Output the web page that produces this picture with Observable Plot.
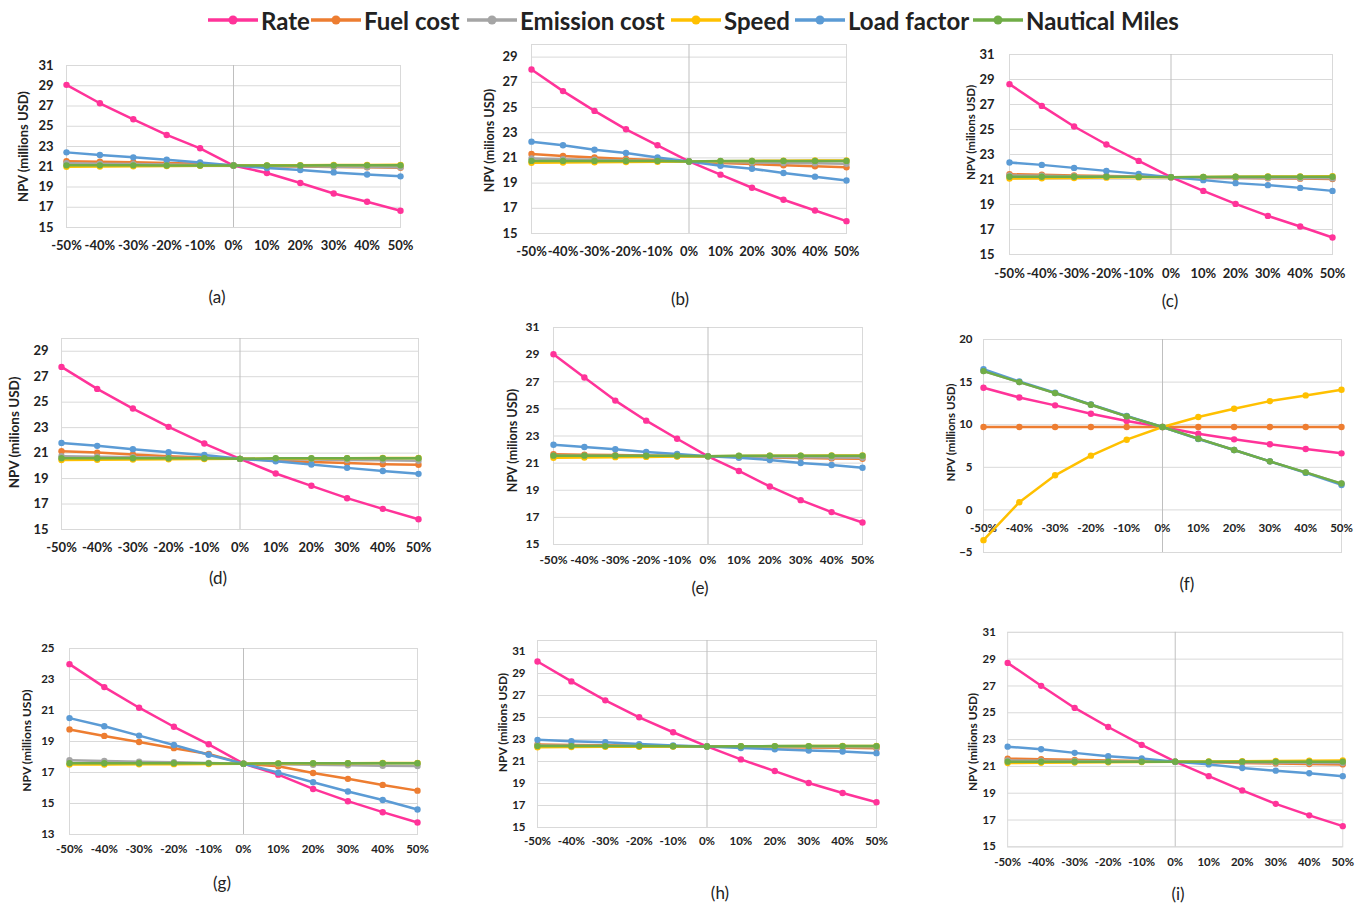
<!DOCTYPE html>
<html><head><meta charset="utf-8">
<script src="https://cdn.jsdelivr.net/npm/d3@7"></script>
<script src="https://cdn.jsdelivr.net/npm/@observablehq/plot@0.6"></script>
<style>
body{margin:0;background:#fff;width:1367px;height:904px;position:relative;overflow:hidden;font-family:Lato,"Open Sans",sans-serif;color:#222;}
.panel{position:absolute;}
.panel svg{overflow:visible;}
.cap{position:absolute;font-size:17px;font-family:Lato,sans-serif;transform:translate(-50%,-50%);color:#222;}
.leg{position:absolute;top:4px;height:32px;display:flex;align-items:center;font-weight:700;font-size:24px;white-space:nowrap;}
.leg svg{margin-right:3px;}
</style></head><body>
<div id="root"></div>
<script>
// ---------- data ----------
const pct = [-50,-40,-30,-20,-10,0,10,20,30,40,50];
const seriesNames = ["Rate","Fuel cost","Emission cost","Speed","Load factor","Nautical Miles"];
const seriesColors = ["#ff3399","#ed7d31","#a5a5a5","#ffc000","#5b9bd5","#70ad47"];

const a_rate  = [29.09,27.27,25.69,24.14,22.82,21.12,20.38,19.39,18.36,17.54,16.65];
const a_fuel  = [21.55,21.50,21.45,21.38,21.30,21.12,21.06,21.02,20.98,20.94,20.90];
const a_emis  = [21.35,21.30,21.26,21.22,21.17,21.12,21.08,21.04,21.00,20.97,20.94];
const a_speed = [21.00,21.03,21.05,21.08,21.10,21.12,21.14,21.16,21.17,21.18,21.19];
const a_load  = [22.42,22.16,21.93,21.70,21.43,21.12,20.87,20.67,20.44,20.24,20.05];
const a_nm    = [21.14,21.14,21.14,21.13,21.13,21.12,21.13,21.13,21.14,21.14,21.14];

const b_rate  = [28.02,26.30,24.73,23.27,22.00,20.72,19.67,18.63,17.68,16.83,15.98];
const b_fuel  = [21.31,21.15,21.04,20.91,20.83,20.72,20.59,20.51,20.41,20.33,20.25];
const b_emis  = [20.95,20.90,20.85,20.80,20.76,20.72,20.68,20.64,20.60,20.57,20.54];
const b_speed = [20.62,20.64,20.66,20.68,20.70,20.72,20.74,20.76,20.78,20.79,20.80];
const b_load  = [22.29,22.00,21.65,21.39,21.04,20.72,20.38,20.14,19.80,19.51,19.21];
const b_nm    = [20.76,20.76,20.76,20.75,20.75,20.72,20.75,20.75,20.76,20.76,20.76];

const c_rate  = [28.63,26.89,25.24,23.80,22.49,21.19,20.09,19.05,18.09,17.24,16.36];
const c_fuel  = [21.42,21.38,21.33,21.29,21.24,21.19,21.16,21.13,21.10,21.07,21.04];
const c_emis  = [21.32,21.30,21.27,21.24,21.22,21.19,21.17,21.15,21.13,21.11,21.09];
const c_speed = [21.08,21.10,21.12,21.15,21.17,21.19,21.21,21.23,21.24,21.25,21.26];
const c_load  = [22.36,22.17,21.93,21.69,21.45,21.19,20.95,20.71,20.55,20.33,20.09];
const c_nm    = [21.22,21.22,21.22,21.22,21.21,21.19,21.21,21.22,21.22,21.22,21.22];

const d_rate  = [27.77,26.04,24.50,23.06,21.75,20.55,19.40,18.43,17.46,16.62,15.81];
const d_fuel  = [21.15,21.04,20.89,20.76,20.65,20.55,20.41,20.31,20.23,20.13,20.08];
const d_emis  = [20.75,20.71,20.67,20.63,20.59,20.55,20.52,20.49,20.46,20.43,20.40];
const d_speed = [20.45,20.47,20.49,20.51,20.53,20.55,20.57,20.58,20.60,20.61,20.62];
const d_load  = [21.80,21.57,21.31,21.07,20.86,20.55,20.36,20.10,19.84,19.60,19.37];
const d_nm    = [20.60,20.60,20.60,20.60,20.59,20.55,20.59,20.60,20.60,20.60,20.60];

const e_rate  = [29.03,27.31,25.61,24.13,22.80,21.50,20.42,19.28,18.27,17.39,16.62];
const e_fuel  = [21.65,21.62,21.59,21.56,21.53,21.50,21.45,21.42,21.38,21.35,21.32];
const e_emis  = [21.55,21.54,21.53,21.52,21.51,21.50,21.48,21.46,21.44,21.42,21.40];
const e_speed = [21.40,21.42,21.44,21.46,21.48,21.50,21.52,21.54,21.55,21.56,21.57];
const e_load  = [22.36,22.19,22.02,21.82,21.67,21.50,21.40,21.23,21.01,20.86,20.66];
const e_nm    = [21.55,21.55,21.55,21.54,21.54,21.50,21.54,21.54,21.55,21.55,21.55];

const f_rate  = [14.34,13.20,12.27,11.29,10.43,9.73,8.95,8.28,7.70,7.15,6.64];
const f_fuel  = [9.73,9.73,9.73,9.73,9.73,9.73,9.73,9.73,9.73,9.73,9.73];
const f_emis  = [16.29,15.00,13.71,12.34,10.98,9.73,8.36,7.03,5.70,4.41,3.09];
const f_speed = [-3.55,0.90,4.06,6.37,8.24,9.73,10.90,11.88,12.77,13.44,14.10];
const f_load  = [16.52,15.08,13.75,12.38,11.02,9.73,8.32,7.03,5.70,4.34,2.93];
const f_nm    = [16.29,15.00,13.71,12.34,10.98,9.73,8.36,7.03,5.70,4.41,3.09];

const g_rate  = [23.99,22.51,21.18,19.95,18.82,17.57,16.86,15.94,15.15,14.44,13.77];
const g_fuel  = [19.78,19.36,18.97,18.57,18.20,17.57,17.40,16.97,16.59,16.20,15.83];
const g_emis  = [17.79,17.74,17.70,17.66,17.62,17.57,17.54,17.50,17.47,17.44,17.42];
const g_speed = [17.51,17.52,17.53,17.54,17.55,17.57,17.58,17.59,17.60,17.61,17.62];
const g_load  = [20.51,19.98,19.38,18.77,18.15,17.57,16.99,16.37,15.77,15.23,14.61];
const g_nm    = [17.60,17.60,17.60,17.60,17.59,17.57,17.59,17.60,17.60,17.60,17.60];

const h_rate  = [30.09,28.28,26.56,25.02,23.66,22.37,21.19,20.13,19.05,18.14,17.29];
const h_fuel  = [22.55,22.51,22.47,22.44,22.40,22.37,22.33,22.30,22.27,22.24,22.20];
const h_emis  = [22.45,22.43,22.42,22.40,22.39,22.37,22.36,22.34,22.33,22.31,22.30];
const h_speed = [22.30,22.31,22.33,22.34,22.36,22.37,22.38,22.39,22.40,22.41,22.42];
const h_load  = [22.97,22.85,22.76,22.58,22.46,22.37,22.22,22.12,22.00,21.91,21.76];
const h_nm    = [22.40,22.40,22.40,22.40,22.39,22.37,22.39,22.40,22.40,22.40,22.40];

const i_rate  = [28.72,27.01,25.36,23.94,22.60,21.35,20.27,19.21,18.21,17.35,16.54];
const i_fuel  = [21.58,21.54,21.49,21.45,21.40,21.35,21.30,21.26,21.22,21.18,21.15];
const i_emis  = [21.45,21.43,21.41,21.39,21.37,21.35,21.33,21.31,21.29,21.27,21.25];
const i_speed = [21.25,21.27,21.29,21.31,21.33,21.35,21.37,21.39,21.40,21.42,21.44];
const i_load  = [22.47,22.28,22.01,21.76,21.59,21.35,21.15,20.88,20.68,20.49,20.27];
const i_nm    = [21.35,21.35,21.35,21.35,21.35,21.35,21.35,21.35,21.35,21.35,21.35];

const ticks15to31 = [15,17,19,21,23,25,27,29,31];
const ticks15to29 = [15,17,19,21,23,25,27,29];
const ticksF = [-5,0,5,10,15,20];
const ticksG = [13,15,17,19,21,23,25];
const captions = ["(a)","(b)","(c)","(d)","(e)","(f)","(g)","(h)","(i)"];
const yLabel1 = "NPV (millions USD)";
const yLabel2 = "NPV (milions USD)";

// ---------- layout ----------
const panels = [
 {vals:[a_rate,a_fuel,a_emis,a_speed,a_load,a_nm], dom:[15,31], ticks:ticks15to31, x0:66, x1:400, yT:65, yB:227, fs:13, tp:13, xo:20, lx:23, ly:146, lfs:13, label:yLabel1, cap:[217,296]},
 {vals:[b_rate,b_fuel,b_emis,b_speed,b_load,b_nm], dom:[15,30], ticks:ticks15to29, x0:531, x1:846, yT:44, yB:233, fs:13, tp:14, xo:20, lx:489, ly:140, lfs:12.5, label:yLabel2, cap:[680,298]},
 {vals:[c_rate,c_fuel,c_emis,c_speed,c_load,c_nm], dom:[15,31], ticks:ticks15to31, x0:1009, x1:1332, yT:54, yB:254, fs:13, tp:15, xo:21, lx:971, ly:132, lfs:11.5, label:yLabel2, cap:[1170,300]},
 {vals:[d_rate,d_fuel,d_emis,d_speed,d_load,d_nm], dom:[15,30], ticks:ticks15to29, x0:61, x1:418, yT:338, yB:529, fs:13, tp:13, xo:20, lx:14, ly:432, lfs:13.5, label:yLabel2, cap:[218,577]},
 {vals:[e_rate,e_fuel,e_emis,e_speed,e_load,e_nm], dom:[15,31], ticks:ticks15to31, x0:553, x1:862, yT:327, yB:544, fs:12, tp:14, xo:18, lx:512, ly:440, lfs:12.5, label:yLabel2, cap:[700,587]},
 {vals:[f_rate,f_fuel,f_emis,f_speed,f_load,f_nm], dom:[-5,20], ticks:ticksF, x0:983, x1:1341, yT:339, yB:552, fs:11.5, tp:11, xo:18, lx:951, ly:432, lfs:11.5, label:yLabel1, cap:[1187,583], zeroAxis:true},
 {vals:[g_rate,g_fuel,g_emis,g_speed,g_load,g_nm], dom:[13,25], ticks:ticksG, x0:69, x1:417, yT:648, yB:834, fs:11.5, tp:15, xo:17, lx:27, ly:740, lfs:12, label:yLabel1, cap:[222,882]},
 {vals:[h_rate,h_fuel,h_emis,h_speed,h_load,h_nm], dom:[15,32], ticks:ticks15to31, x0:537, x1:876, yT:640, yB:827, fs:11.5, tp:12, xo:16, lx:503, ly:722, lfs:12, label:yLabel2, cap:[720,892]},
 {vals:[i_rate,i_fuel,i_emis,i_speed,i_load,i_nm], dom:[15,31], ticks:ticks15to31, x0:1008, x1:1347, yT:632, yB:849, fs:11.5, tp:12, xo:18, lx:973, ly:743, lfs:12, label:yLabel2, cap:[1178,893]}
];

const root = document.getElementById("root");
const ML = 75, MT = 15, MR = 25, MB = 35;
const grid = "#d9d9d9";

panels.forEach((p, k) => {
  const data = [];
  seriesNames.forEach((s, si) => p.vals[si].forEach((v, j) => data.push({s, x: pct[j], v})));
  const L = p.x0 - ML, T = p.yT - MT;
  const W = p.x1 - p.x0 + ML + MR, H = p.yB - p.yT + MT + MB;
  const marks = [
    Plot.gridY(p.ticks, {stroke: grid, strokeOpacity: 1}),
    Plot.frame({stroke: grid, strokeOpacity: 1}),
    Plot.ruleX([0], {stroke: "#bfbfbf", strokeWidth: 1}),
    Plot.axisY(p.ticks, {label: null, tickSize: 0, tickPadding: p.tp, fontSize: p.fs, fontWeight: "bold", fill: "#222"}),
  ];
  if (p.zeroAxis) {
    marks.push(Plot.text(pct, {x: d => d, y: () => 0, dy: p.xo, text: d => d + "%", fontSize: p.fs, fontWeight: "bold", fill: "#222"}));
  } else {
    marks.push(Plot.axisX(pct, {label: null, tickSize: 0, tickPadding: p.xo - p.fs * 0.55, tickFormat: d => d + "%", fontSize: p.fs, fontWeight: "bold", fill: "#222"}));
  }
  seriesNames.forEach((s, si) => {
    const sd = data.filter(d => d.s === s);
    marks.push(Plot.line(sd, {x: "x", y: "v", stroke: seriesColors[si], strokeWidth: 2.5}));
    marks.push(Plot.dot(sd, {x: "x", y: "v", fill: seriesColors[si], r: 3.2}));
  });
  marks.push(Plot.text([p.label], {frameAnchor: "left", textAnchor: "middle", dx: p.lx - p.x0, dy: p.ly - (p.yT + p.yB) / 2, rotate: -90, fontSize: p.lfs, fontWeight: "bold", fill: "#222"}));
  const chart = Plot.plot({
    width: W, height: H,
    marginLeft: ML, marginRight: MR, marginTop: MT, marginBottom: MB,
    x: {domain: [-50, 50], axis: null, label: null},
    y: {domain: p.dom, axis: null, label: null},
    style: {fontFamily: "Lato, 'Open Sans', sans-serif", background: "transparent", overflow: "visible"},
    marks
  });
  const div = document.createElement("div");
  div.className = "panel";
  div.style.left = L + "px"; div.style.top = T + "px";
  div.appendChild(chart);
  root.appendChild(div);
  const cap = document.createElement("div");
  cap.className = "cap";
  cap.style.left = p.cap[0] + "px"; cap.style.top = p.cap[1] + "px";
  cap.textContent = captions[k];
  root.appendChild(cap);
});

// ---------- legend ----------
const legX = [208, 311, 467, 671, 795, 973];
seriesNames.forEach((s, si) => {
  const it = document.createElement("div");
  it.className = "leg";
  it.style.left = legX[si] + "px";
  it.innerHTML = `<svg width="50" height="12"><line x1="0" x2="50" y1="6" y2="6" stroke="${seriesColors[si]}" stroke-width="3.5"/><circle cx="25" cy="6" r="4.5" fill="${seriesColors[si]}"/></svg><span>${s}</span>`;
  root.appendChild(it);
});
</script>
</body></html>
